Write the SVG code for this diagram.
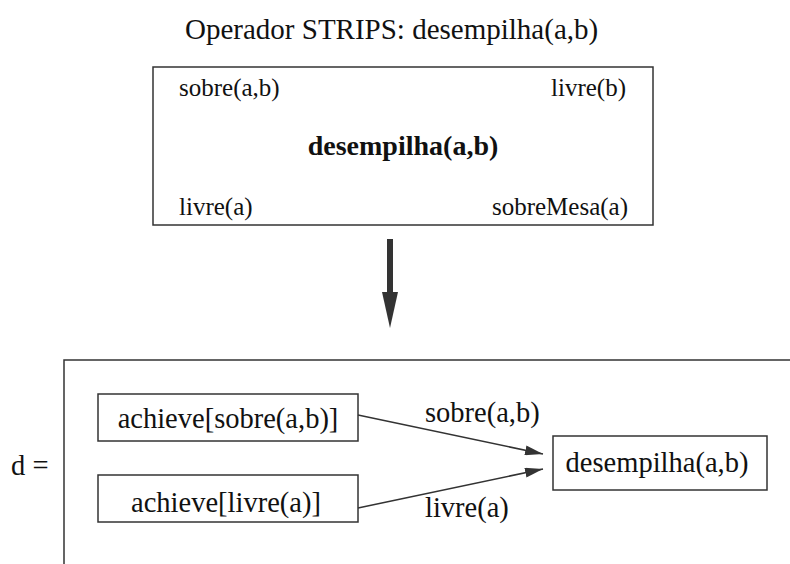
<svg xmlns="http://www.w3.org/2000/svg" width="790" height="564" viewBox="0 0 790 564">
  <defs>
    <marker id="head" viewBox="0 0 18 10" refX="18" refY="5" markerWidth="18" markerHeight="10" markerUnits="userSpaceOnUse" orient="auto">
      <path d="M0,0 L18,5 L0,10 z" fill="#333"/>
    </marker>
    <style>
      text { font-family: "Liberation Serif", "Times New Roman", serif; fill: #111; }
      .box { fill: #fff; stroke: #333; stroke-width: 1.5; }
      .small { font-size: 25px; }
      .big { font-size: 28.5px; }
      .edge { fill: none; stroke: #333; stroke-width: 1.5; }
    </style>
  </defs>
  <rect width="790" height="564" fill="#fff"/>

  <!-- title -->
  <text x="185" y="39" font-size="29">Operador STRIPS: desempilha(a,b)</text>

  <!-- STRIPS operator box -->
  <g id="operator">
    <rect class="box" x="153" y="67" width="500" height="158"/>
    <text class="small" x="179" y="96">sobre(a,b)</text>
    <text class="small" x="626" y="96" text-anchor="end">livre(b)</text>
    <text x="403" y="155" font-size="28" font-weight="bold" text-anchor="middle">desempilha(a,b)</text>
    <text class="small" x="179" y="215">livre(a)</text>
    <text class="small" x="628" y="215" text-anchor="end">sobreMesa(a)</text>
  </g>

  <!-- transformation arrow -->
  <g id="transform">
    <rect x="387" y="239" width="6" height="56" fill="#333"/>
    <path d="M382,292 L398,292 L390,328 z" fill="#333"/>
  </g>

  <!-- decomposition frame -->
  <g id="frame">
    <text class="big" x="11" y="475">d =</text>
    <path d="M64,570 L64,360 L795,360" fill="none" stroke="#333" stroke-width="1.5"/>
  </g>

  <g id="achieve-sobre">
    <rect class="box" x="98" y="394" width="260" height="47"/>
    <text class="big" x="228" y="428" text-anchor="middle">achieve[sobre(a,b)]</text>
  </g>

  <g id="achieve-livre">
    <rect class="box" x="98" y="475" width="260" height="47"/>
    <text class="big" x="226" y="512" text-anchor="middle">achieve[livre(a)]</text>
  </g>

  <g id="desempilha">
    <rect class="box" x="553" y="436" width="214" height="54"/>
    <text class="big" x="657" y="472" text-anchor="middle">desempilha(a,b)</text>
  </g>

  <g id="connectors">
    <line class="edge" x1="358" y1="415" x2="543" y2="454" marker-end="url(#head)"/>
    <line class="edge" x1="358" y1="508" x2="543" y2="469" marker-end="url(#head)"/>
    <text class="big" x="425" y="422">sobre(a,b)</text>
    <text class="big" x="425" y="517">livre(a)</text>
  </g>
</svg>
